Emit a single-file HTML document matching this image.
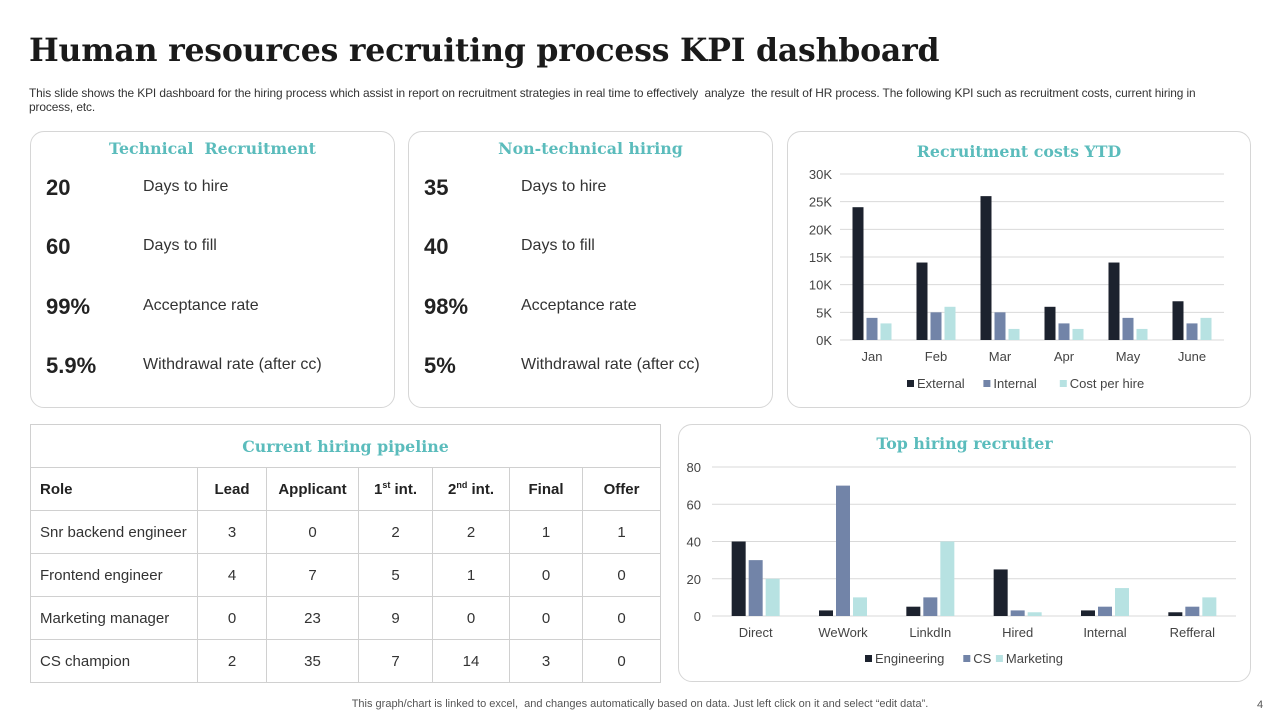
<!DOCTYPE html>
<html><head><meta charset="utf-8"><style>
*{margin:0;padding:0;box-sizing:border-box}
body{width:1280px;height:720px;background:#fff;font-family:"Liberation Sans",sans-serif;position:relative;overflow:hidden;color:#222}
.abs{position:absolute}
h1{position:absolute;left:29px;top:32px;font-family:"DejaVu Serif",serif;font-size:31.5px;font-weight:bold;color:#1a1a1a;letter-spacing:-0.2px;white-space:nowrap}
.sub{left:29px;top:86px;width:1210px;font-size:11.9px;color:#333;line-height:14px;letter-spacing:-0.1px}
.card{position:absolute;border:1px solid #d6d6d6;border-radius:14px;background:#fff}
.ttl{position:absolute;width:100%;text-align:center;font-family:"DejaVu Serif",serif;font-weight:bold;font-size:15.8px;color:#5bbcbc}
.kv{position:absolute;font-size:22px;font-weight:bold;color:#222}
.kl{position:absolute;font-size:16px;color:#333}
table{position:absolute;left:30px;top:424px;border-collapse:collapse;font-size:15px;color:#333}
td{border:1px solid #d0d0d0;height:43px;text-align:center}
td:first-child{text-align:left;padding-left:9px}
tr.h td{font-weight:bold;color:#222}
.foot{left:0;width:1280px;top:697px;text-align:center;font-size:11px;color:#555}
svg text{font-family:"Liberation Sans",sans-serif}
</style></head><body>
<h1>Human resources recruiting process KPI dashboard</h1>
<div class="abs sub">This slide shows the KPI dashboard for the hiring process which assist in report on recruitment strategies in real time to effectively &nbsp;analyze &nbsp;the result of HR process. The following KPI such as recruitment costs, current hiring in process, etc.</div>

<div class="card" style="left:30px;top:131px;width:365px;height:277px">
<div class="ttl" style="top:7px">Technical &nbsp;Recruitment</div>
<div class="kv" style="left:15px;top:43px">20</div><div class="kl" style="left:112px;top:46px">Days to hire</div>
<div class="kv" style="left:15px;top:102px">60</div><div class="kl" style="left:112px;top:105px">Days to fill</div>
<div class="kv" style="left:15px;top:162px">99%</div><div class="kl" style="left:112px;top:165px">Acceptance rate</div>
<div class="kv" style="left:15px;top:221px">5.9%</div><div class="kl" style="left:112px;top:224px">Withdrawal rate (after cc)</div>
</div>
<div class="card" style="left:408px;top:131px;width:365px;height:277px">
<div class="ttl" style="top:7px">Non-technical hiring</div>
<div class="kv" style="left:15px;top:43px">35</div><div class="kl" style="left:112px;top:46px">Days to hire</div>
<div class="kv" style="left:15px;top:102px">40</div><div class="kl" style="left:112px;top:105px">Days to fill</div>
<div class="kv" style="left:15px;top:162px">98%</div><div class="kl" style="left:112px;top:165px">Acceptance rate</div>
<div class="kv" style="left:15px;top:221px">5%</div><div class="kl" style="left:112px;top:224px">Withdrawal rate (after cc)</div>
</div>
<div class="card" style="left:787px;top:131px;width:464px;height:277px">
<div class="ttl" style="top:10px">Recruitment costs YTD</div>
</div>
<div class="card" style="left:678px;top:424px;width:573px;height:258px">
<div class="ttl" style="top:9px">Top hiring recruiter</div>
</div>

<table>
<tr><td colspan="7" style="text-align:center;padding:0;font-family:'DejaVu Serif',serif;font-weight:bold;font-size:15.8px;color:#5bbcbc">Current hiring pipeline</td></tr>
<tr class="h"><td style="width:167px">Role</td><td style="width:69px">Lead</td><td style="width:92px">Applicant</td><td style="width:74px">1<sup style="font-size:9px">st</sup> int.</td><td style="width:77px">2<sup style="font-size:9px">nd</sup> int.</td><td style="width:73px">Final</td><td style="width:78px">Offer</td></tr>
<tr><td>Snr backend engineer</td><td>3</td><td>0</td><td>2</td><td>2</td><td>1</td><td>1</td></tr>
<tr><td>Frontend engineer</td><td>4</td><td>7</td><td>5</td><td>1</td><td>0</td><td>0</td></tr>
<tr><td>Marketing manager</td><td>0</td><td>23</td><td>9</td><td>0</td><td>0</td><td>0</td></tr>
<tr><td>CS champion</td><td>2</td><td>35</td><td>7</td><td>14</td><td>3</td><td>0</td></tr>
</table>

<svg class="abs" style="left:0;top:0" width="1280" height="720" id="charts"></svg>

<div class="abs foot" style="top:698px">This graph/chart is linked to excel, &nbsp;and changes automatically based on data. Just left click on it and select “edit data”.</div>
<div class="abs" style="left:1257px;top:699px;font-size:11px;color:#555">4</div>

<script>
const costMonths=["Jan","Feb","Mar","Apr","May","June"];
const costExternal=[24,14,26,6,14,7];
const costInternal=[4,5,5,3,4,3];
const costPerHire=[3,6,2,2,2,4];
const costTicks=[0,5,10,15,20,25,30];
const srcCats=["Direct","WeWork","LinkdIn","Hired","Internal","Refferal"];
const srcEng=[40,3,5,25,3,2];
const srcCS=[30,70,10,3,5,5];
const srcMkt=[20,10,40,2,15,10];
const srcTicks=[0,20,40,60,80];
const COLORS=["#1c222e","#7284a8","#b7e2e2"];
const svg=document.getElementById('charts');
const NS="http://www.w3.org/2000/svg";
function mk(t,a,txt){const e=document.createElementNS(NS,t);for(const k in a)e.setAttribute(k,a[k]);if(txt!==undefined)e.textContent=txt;svg.appendChild(e);return e;}
function chart(o){
 const y=v=>o.y0-(v-o.min)/(o.max-o.min)*(o.y0-o.y1);
 const cw=(o.x1-o.x0)/o.cats.length;
 o.ticks.forEach(t=>{
  const l=mk('line',{x1:o.x0,x2:o.x1,y1:y(t),y2:y(t),stroke:'#d9d9d9','stroke-width':1});
  
  
  const tx=mk('text',{x:o.tx,y:y(t)+5,'text-anchor':'end','font-size':13,fill:'#444'},o.fmt(t));
  
  
 });
 o.cats.forEach((c,i)=>{
  const cx=o.x0+cw*(i+0.5);
  const tx=mk('text',{x:cx,y:o.y0+21,'text-anchor':'middle','font-size':13,fill:'#444'},c);
  
  
  o.series.forEach((s,j)=>{
   const bx=cx+(j-1)*(o.bw+o.gap)-o.bw/2;
   const r=mk('rect',{x:bx,y:y(s[i]),width:o.bw,height:o.y0-y(s[i]),fill:COLORS[j]});
   
   
  });
 });
 let lx=o.lx;
 o.sn.forEach((n,j)=>{
  const r=mk('rect',{x:lx,y:o.ly-8,width:7,height:7,fill:COLORS[j]});
  
  
  const t=mk('text',{x:lx+10,y:o.ly,'font-size':13,fill:'#444'},n);
  
  
  lx+=18+n.length*7.3;
 });
}
chart({name:'costs',cats:costMonths,series:[costExternal,costInternal,costPerHire],sn:["External","Internal","Cost per hire"],ticks:costTicks,min:0,max:30,x0:840,x1:1224,y0:340,y1:174,tx:832,bw:11,gap:3,fmt:t=>t+'K',lx:907,ly:388});
chart({name:'recruiter',cats:srcCats,series:[srcEng,srcCS,srcMkt],sn:["Engineering","CS","Marketing"],ticks:srcTicks,min:0,max:80,x0:712,x1:1236,y0:616,y1:467,tx:701,bw:14,gap:3,fmt:t=>String(t),lx:865,ly:663});
</script>
</body></html>
